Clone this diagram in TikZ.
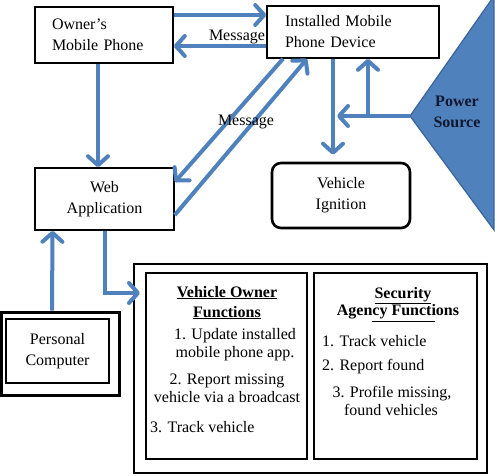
\documentclass[tikz,border=0pt]{standalone}
\usepackage{fontspec}
\setmainfont{Liberation Serif}
\usetikzlibrary{arrows.meta,calc}
\definecolor{ablue}{HTML}{4F81BD}
\definecolor{tedge}{HTML}{3A6499}
\definecolor{ptext}{HTML}{101830}
\begin{document}
\begin{tikzpicture}[x=1pt,y=-1pt,font=\fontsize{16}{21}\selectfont,
  box/.style={draw, line width=1.6pt, inner sep=0pt, align=center},
  conn/.style={draw=ablue, line width=4pt, -{Straight Barb[length=9pt,width=20pt,round]}},
  txt/.style={inner sep=0pt, anchor=base}]
\useasboundingbox (0,0) rectangle (495,475);

% power source triangle
\coordinate (papex) at (410,116);
\fill[ablue] (papex) -- (494,-4) -- (494,230) -- cycle;
\draw[tedge, line width=1.2pt] (papex) -- (494,-4) (494,-4) -- (494,230) -- (papex);
\node[txt, anchor=center, align=center, font=\fontsize{16}{21}\selectfont\bfseries, text=ptext] (power) at (457,112) {Power\\Source};

% boxes
\node[box, inner xsep=17pt, text width=104pt, align=left, minimum height=56pt] (owner) at (104,35) {Owner’s\\Mobile Phone};
\node[box, inner xsep=18pt, text width=136pt, align=left, minimum height=52pt] (inst) at (353,32) {Installed Mobile\\Phone Device};
\node[box, minimum width=139pt, minimum height=62pt] (web) at (104.5,199) {Web\\Application};
\node[box, line width=2.6pt, rounded corners=9pt, minimum width=138pt, minimum height=65pt] (ign) at (341,195.5) {Vehicle\\Ignition};

\node[box, line width=3pt, minimum width=118pt, minimum height=83pt] (pcouter) at (60,353.5) {};
\node[box, line width=1.4pt, minimum width=103pt, minimum height=64pt] (pc) at (57.5,351) {Personal\\Computer};

\node[box, line width=2pt, minimum width=353pt, minimum height=209pt] (funcs) at (310.5,368.5) {};
\node[box, line width=2.4pt, minimum width=161pt, minimum height=186pt] (vof) at (226.5,366) {};
\node[box, line width=2.4pt, minimum width=163pt, minimum height=186pt] (saf) at (395.5,366) {};

% vehicle owner functions text
\node[txt, font=\fontsize{16}{21}\selectfont\bfseries] (vof1) at (227,297) {\underline{Vehicle Owner}};
\node[txt, font=\fontsize{16}{21}\selectfont\bfseries] (vof2) at (227,317) {\underline{Functions}};
\node[txt] (vof3) at (235,339) {1. Update installed};
\node[txt] (vof4) at (235,357) {mobile phone app.};
\node[txt] (vof5) at (227,384) {2. Report missing};
\node[txt] (vof6) at (227,402) {vehicle via a broadcast};
\node[txt, anchor=base west] (vof7) at (150,432) {3. Track vehicle};

% security agency functions text
\node[txt, font=\fontsize{16}{21}\selectfont\bfseries] (saf1) at (403,298) {\underline{Security}};
\node[txt, font=\fontsize{16}{21}\selectfont\bfseries] (saf2) at (398,315) {Agency Functions};
\draw[line width=0.8pt] (372,321) -- (435,321);
\node[txt, anchor=base west] (saf3) at (322,346) {1. Track vehicle};
\node[txt, anchor=base west] (saf4) at (322,370) {2. Report found};
\node[txt] (saf5) at (392,397) {3. Profile missing,};
\node[txt] (saf6) at (391,415) {found vehicles};

% connectors
\coordinate (pup) at (368,116);
\coordinate (pleft) at (337,116);
\coordinate (vofarrow) at (140,293);

\draw[conn] ([yshift=20pt]owner.east) -- ([yshift=17pt]inst.west);
\draw[conn] ([yshift=-14pt]inst.west) -- ([yshift=-11pt]owner.east);
\draw[conn] ([xshift=-6pt]owner.south) -- ([xshift=-6.5pt]web.north);
\draw[conn] ([xshift=-70pt]inst.south) -- ([yshift=17pt]web.east);
\draw[conn] ([yshift=-16pt]web.east) -- ([xshift=-46pt]inst.south);
\draw[conn, shorten >=7pt] ([xshift=-20pt]inst.south) -- ([xshift=-8pt]ign.north);
\draw[conn] (papex) -| ([xshift=15pt]inst.south);
\draw[conn] (pup) -- (pleft);
\draw[conn] ([xshift=0.5pt]web.south) |- (vofarrow);
\draw[conn] ([xshift=-8pt]pcouter.north) -- ([xshift=-52pt]web.south);

% message labels
\node[txt, anchor=center] (msg1) at (237,37) {Message};
\node[txt, anchor=center] (msg2) at (246,122) {Message};
\end{tikzpicture}
\end{document}
